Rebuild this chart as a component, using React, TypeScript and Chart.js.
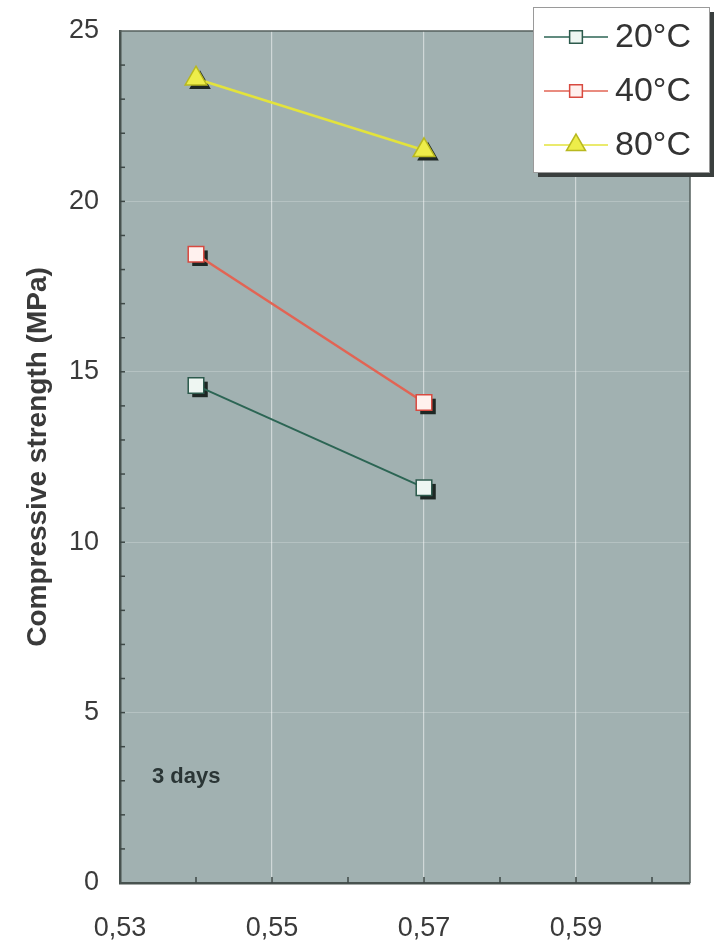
import React, { useEffect, useRef } from 'react';
import { Chart, registerables } from 'chart.js';

Chart.register(...registerables);

// ---- data ----
const seriesLabels = ['20°C', '40°C', '80°C'];
const wcRatio = [0.54, 0.57];
const strength20 = [14.6, 11.6];
const strength40 = [18.45, 14.1];
const strength80 = [23.6, 21.5];
const xTickLabels = ['0,53', '0,55', '0,57', '0,59'];
const yTickLabels = ['0', '5', '10', '15', '20', '25'];
const yTitle = 'Compressive strength (MPa)';
const annotationText = '3 days';

const FONT = '"Liberation Sans", Arial, Helvetica, sans-serif';
const PLOT_BG = '#a1b1b1';
const SHADOW = '#1e2724';

const lineColors = ['#2c6554', '#e26454', '#e3e33c'];
const fillColors = ['#eef6f2', '#fff1ee', '#eded4a'];
const borderColors = ['#2c5a4c', '#d84a40', '#b8b820'];
const pointStyles = ['rect', 'rect', 'triangle'];
const pointRadii = [11, 11, 12.5];

function xLabelFor(value: number): string {
  const h = Math.round(value * 100);
  if (Math.abs(value * 100 - h) > 1e-6) return '';
  const s = '0,' + String(h);
  return xTickLabels.includes(s) ? s : '';
}

function yLabelFor(value: number): string {
  const s = String(Math.round(value));
  if (Math.abs(value - Math.round(value)) > 1e-6) return '';
  return yTickLabels.includes(s) ? s : '';
}

function drawShape(ctx: CanvasRenderingContext2D, style: string, x: number, y: number, r: number) {
  ctx.beginPath();
  if (style === 'triangle') {
    ctx.moveTo(x, y - r);
    ctx.lineTo(x + r * Math.sin((2 * Math.PI) / 3), y - r * Math.cos((2 * Math.PI) / 3));
    ctx.lineTo(x + r * Math.sin((4 * Math.PI) / 3), y - r * Math.cos((4 * Math.PI) / 3));
    ctx.closePath();
  } else {
    const s = r * Math.SQRT1_2;
    ctx.rect(x - s, y - s, 2 * s, 2 * s);
  }
}

const plotPlugin = {
  id: 'plotDecor',
  beforeDraw(chart: any) {
    const { ctx, chartArea } = chart;
    ctx.save();
    ctx.fillStyle = PLOT_BG;
    ctx.fillRect(chartArea.left, chartArea.top, chartArea.right - chartArea.left, chartArea.bottom - chartArea.top);
    ctx.restore();
  },
  beforeDatasetsDraw(chart: any) {
    const { ctx, chartArea, scales } = chart;
    ctx.save();
    // top and right frame
    ctx.strokeStyle = '#56605e';
    ctx.lineWidth = 1.5;
    ctx.beginPath();
    ctx.moveTo(chartArea.left, chartArea.top);
    ctx.lineTo(chartArea.right, chartArea.top);
    ctx.lineTo(chartArea.right, chartArea.bottom);
    ctx.stroke();
    // inward tick marks
    ctx.strokeStyle = '#3e4846';
    ctx.lineWidth = 1.5;
    scales.x.ticks.forEach((t: any) => {
      const px = scales.x.getPixelForValue(t.value);
      if (px <= chartArea.left + 1 || px >= chartArea.right - 1) return;
      ctx.beginPath();
      ctx.moveTo(px, chartArea.bottom);
      ctx.lineTo(px, chartArea.bottom - 6);
      ctx.stroke();
    });
    scales.y.ticks.forEach((t: any) => {
      const py = scales.y.getPixelForValue(t.value);
      if (py <= chartArea.top + 1 || py >= chartArea.bottom - 1) return;
      ctx.beginPath();
      ctx.moveTo(chartArea.left, py);
      ctx.lineTo(chartArea.left + 5, py);
      ctx.stroke();
    });
    ctx.restore();
  },
  beforeDatasetDraw(chart: any, args: any) {
    const { ctx } = chart;
    const i = args.index;
    const meta = args.meta;
    ctx.save();
    ctx.fillStyle = SHADOW;
    meta.data.forEach((el: any) => {
      drawShape(ctx, pointStyles[i], el.x + 4, el.y + 4, pointRadii[i]);
      ctx.fill();
    });
    ctx.restore();
  },
  afterDatasetsDraw(chart: any) {
    const { ctx, chartArea } = chart;
    ctx.save();
    ctx.fillStyle = '#2a3535';
    ctx.font = 'bold 22px ' + FONT;
    ctx.textBaseline = 'alphabetic';
    ctx.textAlign = 'left';
    ctx.fillText(annotationText, chartArea.left + 32, chartArea.bottom - 100);
    ctx.restore();
  },
  afterDraw(chart: any) {
    const { ctx } = chart;
    const bx = 533, by = 7, bw = 176, bh = 165;
    ctx.save();
    // shadow
    ctx.fillStyle = '#3a3f3e';
    ctx.fillRect(bx + 5, by + 5, bw, bh);
    ctx.fillStyle = '#ffffff';
    ctx.fillRect(bx, by, bw, bh);
    ctx.strokeStyle = '#9a9a9a';
    ctx.lineWidth = 1;
    ctx.strokeRect(bx + 0.5, by + 0.5, bw, bh);
    const rows = [37, 91, 145];
    chart.data.datasets.forEach((ds: any, i: number) => {
      const y = rows[i];
      ctx.strokeStyle = lineColors[i];
      ctx.lineWidth = 1.5;
      ctx.beginPath();
      ctx.moveTo(544, y);
      ctx.lineTo(608, y);
      ctx.stroke();
      drawShape(ctx, pointStyles[i], 576, y, i === 2 ? 11 : 9);
      ctx.fillStyle = fillColors[i];
      ctx.fill();
      ctx.strokeStyle = borderColors[i];
      ctx.lineWidth = 1.5;
      ctx.stroke();
      ctx.fillStyle = '#333333';
      ctx.font = '34px ' + FONT;
      ctx.textBaseline = 'middle';
      ctx.textAlign = 'left';
      ctx.fillText(ds.label, 615, y + 1);
    });
    ctx.restore();
  },
};

export default function App() {
  const ref = useRef<HTMLCanvasElement | null>(null);

  useEffect(() => {
    if (!ref.current) return;
    const series = [strength20, strength40, strength80];
    const chart = new Chart(ref.current, {
      type: 'scatter',
      data: {
        datasets: series.map((vals, i) => ({
          label: seriesLabels[i],
          data: wcRatio.map((x, j) => ({ x, y: vals[j] })),
          showLine: true,
          borderColor: lineColors[i],
          borderWidth: i === 0 ? 2 : 2.5,
          backgroundColor: fillColors[i],
          pointStyle: pointStyles[i],
          pointRadius: pointRadii[i],
          pointBackgroundColor: fillColors[i],
          pointBorderColor: borderColors[i],
          pointBorderWidth: 1.5,
        })),
      },
      plugins: [plotPlugin],
      options: {
        animation: false,
        responsive: false,
        events: [],
        layout: { padding: { left: 0, right: 27, top: 31, bottom: 0 } },
        plugins: {
          legend: { display: false },
          tooltip: { enabled: false },
        },
        scales: {
          x: {
            type: 'linear',
            min: 0.53,
            max: 0.605,
            afterFit: (s: any) => { s.height = 59; s.paddingLeft = 0; s.paddingRight = 0; },
            ticks: {
              stepSize: 0.01,
              includeBounds: false,
              autoSkip: false,
              maxRotation: 0,
              padding: 29,
              color: '#3a3a3a',
              font: { family: FONT, size: 27 },
              callback: (v: any) => xLabelFor(Number(v)),
            },
            grid: {
              drawTicks: false,
              color: (c: any) => (xLabelFor(c.tick.value) && c.tick.value > 0.535 ? 'rgba(255,255,255,0.5)' : 'rgba(0,0,0,0)'),
              lineWidth: 1.2,
            },
            border: { display: true, color: '#48524f', width: 2.5 },
          },
          y: {
            type: 'linear',
            min: 0,
            max: 25,
            afterFit: (s: any) => { s.width = 120; s.paddingTop = 0; s.paddingBottom = 0; },
            ticks: {
              stepSize: 1,
              autoSkip: false,
              padding: 21,
              color: '#3a3a3a',
              font: { family: FONT, size: 27 },
              callback: (v: any) => yLabelFor(Number(v)),
            },
            grid: {
              drawTicks: false,
              color: (c: any) => (yLabelFor(c.tick.value) && c.tick.value > 0 && c.tick.value < 25 ? 'rgba(255,255,255,0.22)' : 'rgba(0,0,0,0)'),
              lineWidth: 1,
            },
            border: { display: true, color: '#48524f', width: 2.5 },
            title: {
              display: true,
              text: yTitle,
              color: '#3a3a3a',
              font: { family: FONT, size: 28, weight: 'bold' },
              padding: { top: 21, bottom: 0 },
            },
          },
        },
      },
    });
    return () => chart.destroy();
  }, []);

  return (
    <div style={{ position: 'fixed', left: 0, top: 0, width: 717, height: 942, background: '#ffffff' }}>
      <canvas ref={ref} width={717} height={942} style={{ width: 717, height: 942, display: 'block' }} />
    </div>
  );
}
